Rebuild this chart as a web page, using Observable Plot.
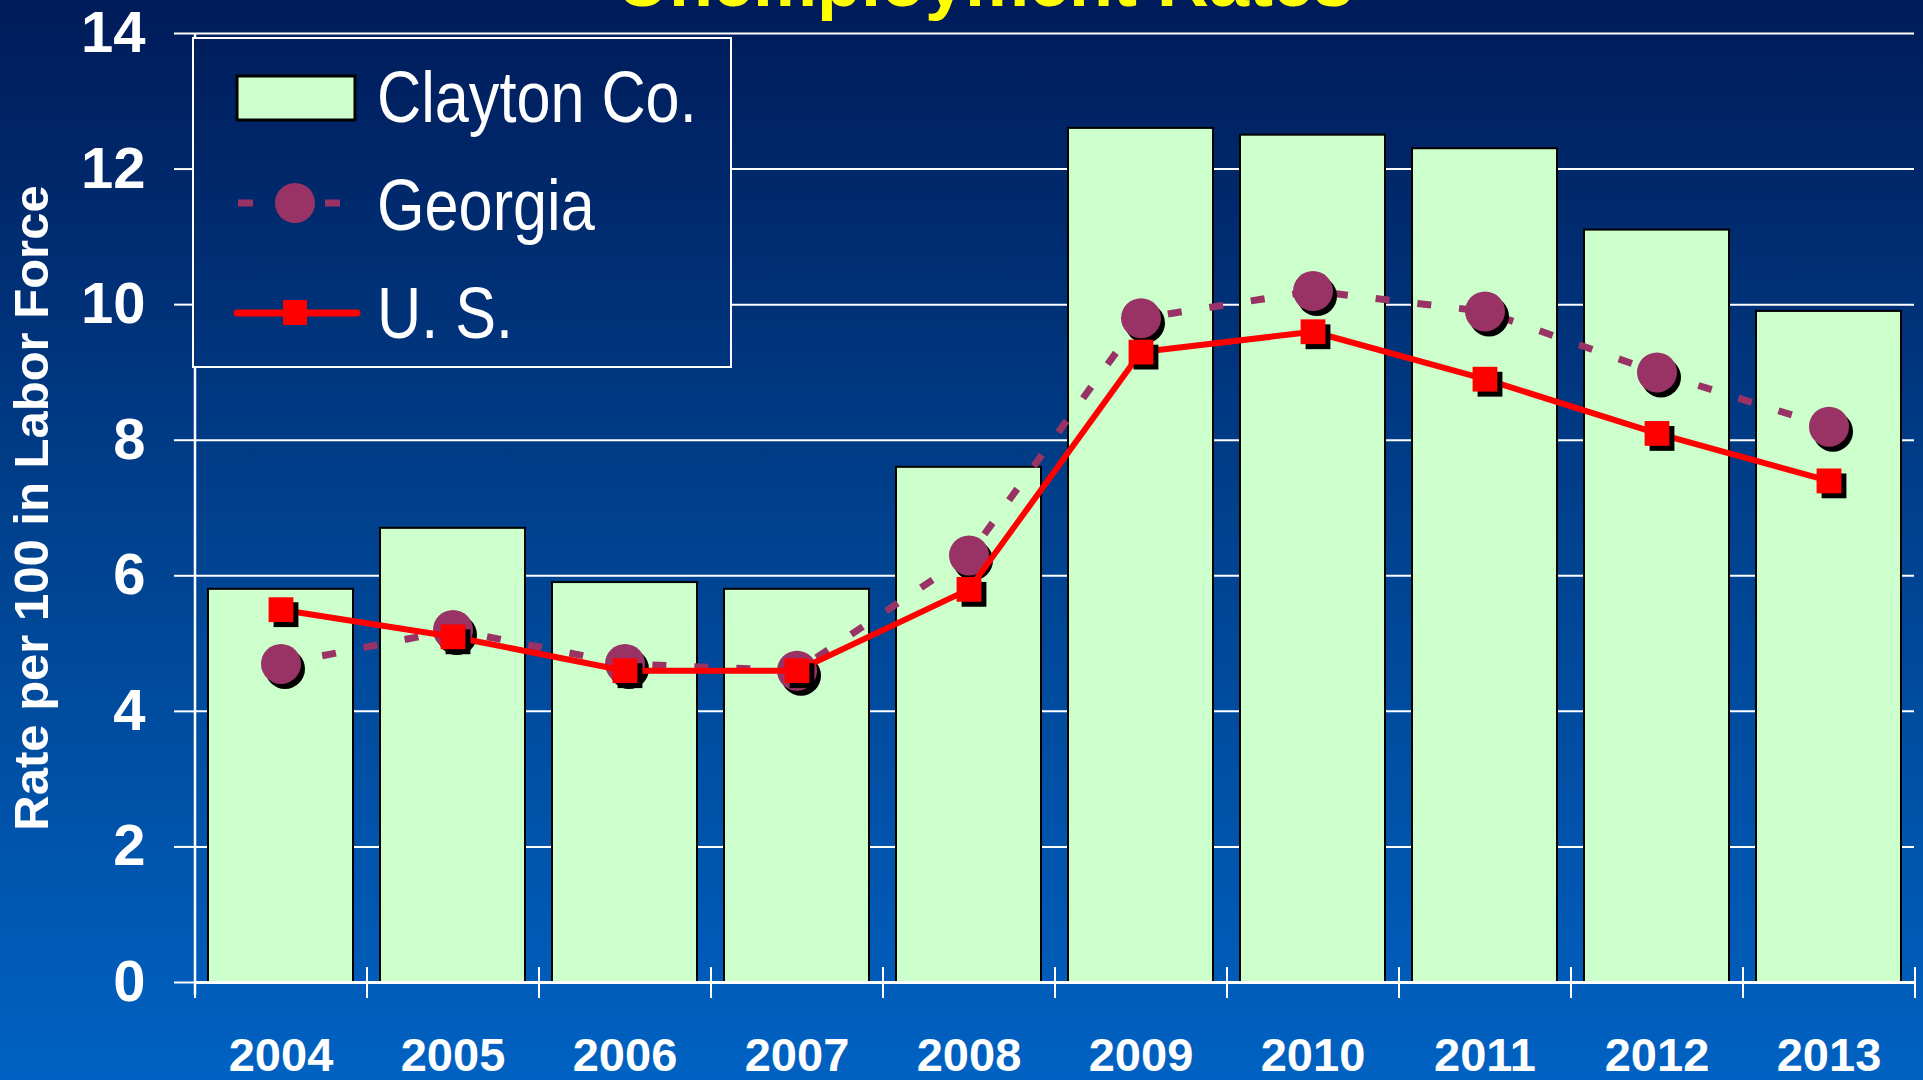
<!DOCTYPE html>
<html>
<head>
<meta charset="utf-8">
<script src="https://cdn.jsdelivr.net/npm/d3@7"></script>
<script src="https://cdn.jsdelivr.net/npm/@observablehq/plot@0.6"></script>
<style>
  html, body { margin: 0; padding: 0; width: 1923px; height: 1080px; overflow: hidden; }
  body {
    position: relative;
    background: linear-gradient(to bottom, #001b59 0%, #00428f 50%, #0062c2 100%);
    font-family: "Liberation Sans", Arial, sans-serif;
  }
  #chart { position: absolute; left: 0; top: 0; }
  #title {
    position: absolute; left: 985px; top: -55px; transform: translateX(-50%);
    font: bold 72px "Liberation Sans", Arial, sans-serif; line-height: 72px;
    color: #ffff00; white-space: nowrap; z-index: 3;
  }
  #legend {
    position: absolute; left: 192px; top: 37px; width: 540px; height: 331px;
    box-sizing: border-box; border: 2px solid #ffffff; z-index: 2;
    background: linear-gradient(to bottom, #001b59 0%, #00428f 50%, #0062c2 100%) fixed;
  }
  #legend svg { position: absolute; left: -2px; top: -2px; overflow: visible; }
</style>
</head>
<body>
<div id="chart"></div>
<div id="title"></div>
<div id="legend"></div>
<script>
// ---- data ----
const titleText = "Unemployment Rates";
const yLabel = "Rate per 100 in Labor Force";
const years = ["2004", "2005", "2006", "2007", "2008", "2009", "2010", "2011", "2012", "2013"];
const claytonRates = [5.8, 6.7, 5.9, 5.8, 7.6, 12.6, 12.5, 12.3, 11.1, 9.9];
const georgiaRates = [4.7, 5.2, 4.7, 4.6, 6.3, 9.8, 10.2, 9.9, 9.0, 8.2];
const usRates = [5.5, 5.1, 4.6, 4.6, 5.8, 9.3, 9.6, 8.9, 8.1, 7.4];
const yTicks = [0, 2, 4, 6, 8, 10, 12, 14];
const seriesNames = ["Clayton Co.", "Georgia", "U. S."];

// ---- layout / styles ----
const W = 1923, H = 1080, mL = 194, mR = 9, mT = 33, mB = 98;
const step = (W - mL - mR) / years.length;
const font = '"Liberation Sans", Arial, sans-serif';
const barFill = "#CCFFCC", gaColor = "#993366", usColor = "#FF0000";

const rows = years.map((year, i) => ({year, clayton: claytonRates[i], georgia: georgiaRates[i], us: usRates[i]}));

const chart = Plot.plot({
  width: W, height: H,
  marginLeft: mL, marginRight: mR, marginTop: mT, marginBottom: mB,
  style: {background: "transparent", color: "white", fontFamily: font, overflow: "visible"},
  x: {type: "band", domain: years, paddingInner: 0.157, paddingOuter: 0.0785},
  y: {domain: [yTicks[0], yTicks[yTicks.length - 1]]},
  marks: [
    Plot.gridY(yTicks.filter(t => t > 0), {stroke: "white", strokeOpacity: 1, strokeWidth: 2}),
    Plot.barY(rows, {x: "year", y: "clayton", fill: barFill, stroke: "black", strokeWidth: 2}),
    Plot.ruleY([0], {stroke: "white", strokeWidth: 3}),
    Plot.ruleX([years[0]], {x: d => d, dx: -step / 2, y1: yTicks[yTicks.length - 1], y2: 0, insetBottom: -13, stroke: "white", strokeWidth: 2.5}),
    Plot.ruleX(years, {x: d => d, dx: -step / 2, y1: 0, y2: 0, insetTop: -15, insetBottom: -16, stroke: "white", strokeWidth: 2}),
    Plot.ruleX([years[years.length - 1]], {x: d => d, dx: step / 2, y1: 0, y2: 0, insetTop: -15, insetBottom: -16, stroke: "white", strokeWidth: 2}),
    Plot.line(rows, {x: "year", y: "georgia", stroke: gaColor, strokeWidth: 7, strokeDasharray: "14,28", strokeLinecap: "butt"}),
    Plot.dot(rows, {x: "year", y: "georgia", r: 20, fill: "black", dx: 4, dy: 5}),
    Plot.dot(rows, {x: "year", y: "georgia", r: 20, fill: gaColor}),
    Plot.line(rows, {x: "year", y: "us", stroke: usColor, strokeWidth: 6}),
    Plot.dot(rows, {x: "year", y: "us", symbol: "square", r: 14, fill: "black", dx: 5, dy: 5}),
    Plot.dot(rows, {x: "year", y: "us", symbol: "square", r: 14, fill: usColor}),
    Plot.axisY({ticks: yTicks, tickSize: 20, tickPadding: 29, fontSize: 58, fontWeight: "bold", stroke: "white", strokeWidth: 2, label: null}),
    Plot.axisX({tickSize: 0, tickPadding: 55, fontSize: 47, fontWeight: "bold", label: null}),
    Plot.text([yLabel], {frameAnchor: "left", textAnchor: "middle", rotate: -90, dx: -162, fontSize: 49, fontWeight: "bold", fill: "white"})
  ]
});
document.getElementById("chart").appendChild(chart);

document.getElementById("title").textContent = titleText;

// ---- legend ----
const lg = d3.select("#legend").append("svg").attr("width", 540).attr("height", 331);
const textAttrs = (sel) => sel.attr("fill", "white").attr("font-family", font).attr("font-size", 72);
// Clayton
lg.append("rect").attr("x", 45).attr("y", 39).attr("width", 118).attr("height", 44)
  .attr("fill", barFill).attr("stroke", "black").attr("stroke-width", 3);
lg.append("text").attr("transform", "translate(185,85) scale(0.85,1)").call(textAttrs).text(seriesNames[0]);
// Georgia
lg.append("line").attr("x1", 46).attr("x2", 61).attr("y1", 166).attr("y2", 166).attr("stroke", gaColor).attr("stroke-width", 7);
lg.append("line").attr("x1", 133).attr("x2", 148).attr("y1", 166).attr("y2", 166).attr("stroke", gaColor).attr("stroke-width", 7);
lg.append("circle").attr("cx", 103).attr("cy", 166).attr("r", 20).attr("fill", gaColor);
lg.append("text").attr("transform", "translate(185,193) scale(0.85,1)").call(textAttrs).text(seriesNames[1]);
// U.S.
lg.append("line").attr("x1", 45).attr("x2", 165).attr("y1", 276).attr("y2", 276).attr("stroke", usColor).attr("stroke-width", 7).attr("stroke-linecap", "round");
lg.append("rect").attr("x", 91).attr("y", 263).attr("width", 24).attr("height", 25).attr("fill", usColor);
lg.append("text").attr("transform", "translate(185,301) scale(0.85,1)").call(textAttrs).text(seriesNames[2]);
</script>
</body>
</html>
